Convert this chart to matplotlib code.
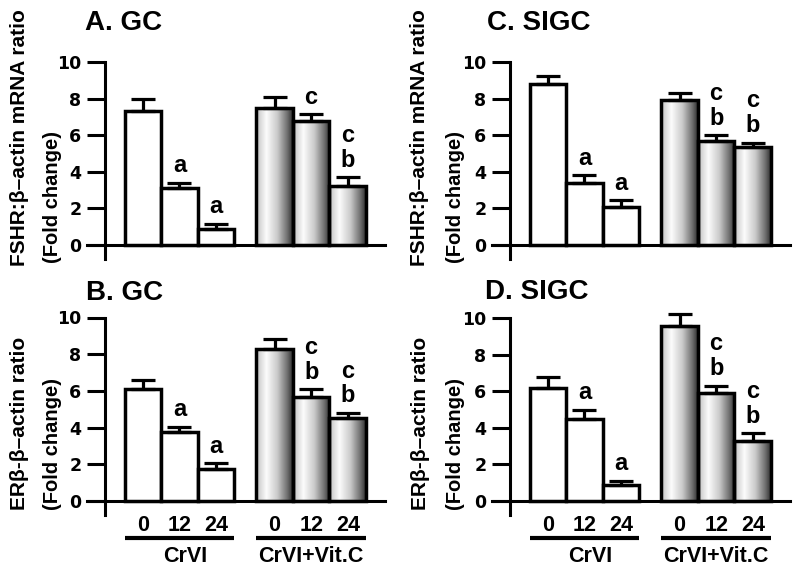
import numpy as np
import matplotlib
matplotlib.use("Agg")
import matplotlib.pyplot as plt
from matplotlib.colors import LinearSegmentedColormap

plt.rcParams['font.family'] = ['Liberation Sans', 'DejaVu Sans']
plt.rcParams['font.weight'] = 'bold'

# data
times = ['0', '12', '24', '0', '12', '24']
groups = ['CrVI', 'CrVI+Vit.C']

a_means = [7.3, 3.1, 0.9, 7.5, 6.8, 3.2]
a_err = [0.7, 0.3, 0.25, 0.6, 0.35, 0.5]
a_sig = ['', 'a', 'a', '', 'c', 'c\nb']

b_means = [6.1, 3.75, 1.75, 8.3, 5.65, 4.5]
b_err = [0.5, 0.3, 0.3, 0.55, 0.45, 0.3]
b_sig = ['', 'a', 'a', '', 'c\nb', 'c\nb']

c_means = [8.8, 3.4, 2.1, 7.9, 5.7, 5.35]
c_err = [0.45, 0.4, 0.35, 0.4, 0.3, 0.25]
c_sig = ['', 'a', 'a', '', 'c\nb', 'c\nb']

d_means = [6.15, 4.5, 0.85, 9.55, 5.9, 3.3]
d_err = [0.6, 0.5, 0.25, 0.65, 0.4, 0.4]
d_sig = ['', 'a', 'a', '', 'c\nb', 'c\nb']

xpos = np.array([0, 1, 2, 3.6, 4.6, 5.6])

W, H = 800, 571
fig = plt.figure(figsize=(W / 100, H / 100), dpi=100)

# gradient used for the CrVI+Vit.C bars
grad_cmap = LinearSegmentedColormap.from_list(
    'bar', [(0, '#c0c0c0'), (0.28, '#fcfcfc'), (0.58, '#cacaca'),
            (0.85, '#707070'), (1, '#303030')])
grad = np.linspace(0, 1, 200).reshape(1, -1)

PX = 36.6          # pixels per bar width
TICK = 18          # tick length in px
x_spine = -0.5 - 19.5 / PX
x_left = x_spine - TICK / PX
x_right = 6.61
ylo, yhi = -0.8, 10.5


def panel(spine_px, y0_px, y10_px, means, errs, sig, show_x):
    ys = (y0_px - y10_px) / 10.0
    left = spine_px - TICK
    width = (x_right - x_left) * PX
    bottom = y0_px - ylo * ys
    top = y10_px - (yhi - 10) * ys
    ax = fig.add_axes([left / W, 1 - bottom / H, width / W, (bottom - top) / H])

    for i, (x, m) in enumerate(zip(xpos, means)):
        if i < 3:
            ax.bar(x, m, width=1, color='white', edgecolor='k', linewidth=2.5, zorder=3)
        else:
            ax.imshow(grad, extent=[x - 0.5, x + 0.5, 0, m], cmap=grad_cmap,
                      aspect='auto', zorder=2, interpolation='bilinear')
            ax.bar(x, m, width=1, color='none', edgecolor='k', linewidth=2.5, zorder=3)

    ax.errorbar(xpos, means, yerr=[np.zeros(len(errs)), errs], fmt='none',
                ecolor='k', elinewidth=2.3, capsize=8.5, capthick=2.3, zorder=4)

    for x, m, e, s in zip(xpos, means, errs, sig):
        if s:
            ax.annotate(s, (x, m + e), xytext=(0, 4), textcoords='offset points',
                        ha='center', va='bottom', fontsize=17, fontweight='bold',
                        linespacing=1.1, annotation_clip=False)

    ax.set_xlim(x_left, x_right)
    ax.set_ylim(ylo, yhi)
    for s in ['top', 'right']:
        ax.spines[s].set_visible(False)
    ax.spines['left'].set_position(('data', x_spine))
    ax.spines['left'].set_bounds(-0.75, 10)
    ax.spines['bottom'].set_position(('data', 0))
    for s in ['left', 'bottom']:
        ax.spines[s].set_linewidth(2.2)
    ax.set_yticks([0, 2, 4, 6, 8, 10])
    ax.tick_params(axis='y', length=13, width=2.2, pad=4, labelsize=12.5)
    for lab in ax.get_yticklabels():
        lab.set_fontfamily('DejaVu Sans')
        lab.set_fontweight('bold')
    ax.patch.set_visible(False)

    if show_x:
        ax.set_xticks(xpos, times)
        ax.tick_params(axis='x', length=0, pad=10, labelsize=15.5)
        y_line = -(538 - y0_px) / ys
        y_lab = -(556 - y0_px) / ys
        for g, (start, name) in enumerate(zip([0, 3], groups)):
            x0 = xpos[start] - 0.5
            x1 = xpos[start + 2] + 0.5
            ax.plot([x0, x1], [y_line, y_line], color='k', lw=3,
                    solid_capstyle='butt', clip_on=False)
            xc = (x0 + x1) / 2 + (0.15 if g == 0 else 0)
            ax.text(xc, y_lab, name, ha='center', va='center', fontsize=15.5,
                    fontweight='bold', clip_on=False)
    else:
        ax.set_xticks([])
    return ax


panel(105, 245, 62, a_means, a_err, a_sig, False)
panel(510, 245, 62, c_means, c_err, c_sig, False)
panel(105, 501, 317.5, b_means, b_err, b_sig, True)
panel(510, 501, 318, d_means, d_err, d_sig, True)

# panel titles
for txt, x, y in [('A. GC', 85, 23), ('C. SIGC', 487, 23),
                  ('B. GC', 86, 293), ('D. SIGC', 485, 292)]:
    fig.text(x / W, 1 - y / H, txt, ha='left', va='center', fontsize=20,
             fontweight='bold')

# y labels
for txt, x, y, fs in [('FSHR:β–actin mRNA ratio', 20, 266, 15),
                      ('(Fold change)', 52, 263, 14.5),
                      ('FSHR:β–actin mRNA ratio', 419, 266, 15),
                      ('(Fold change)', 456, 263, 14.5),
                      ('ERβ-β–actin ratio', 20, 510, 15),
                      ('(Fold change)', 52, 510, 14.5),
                      ('ERβ-β–actin ratio', 420, 510, 15),
                      ('(Fold change)', 456, 510, 14.5)]:
    fig.text(x / W, 1 - y / H, txt, rotation=90, ha='center', va='bottom',
             fontsize=fs, fontweight='bold')

fig.savefig('out.png', dpi=100)
